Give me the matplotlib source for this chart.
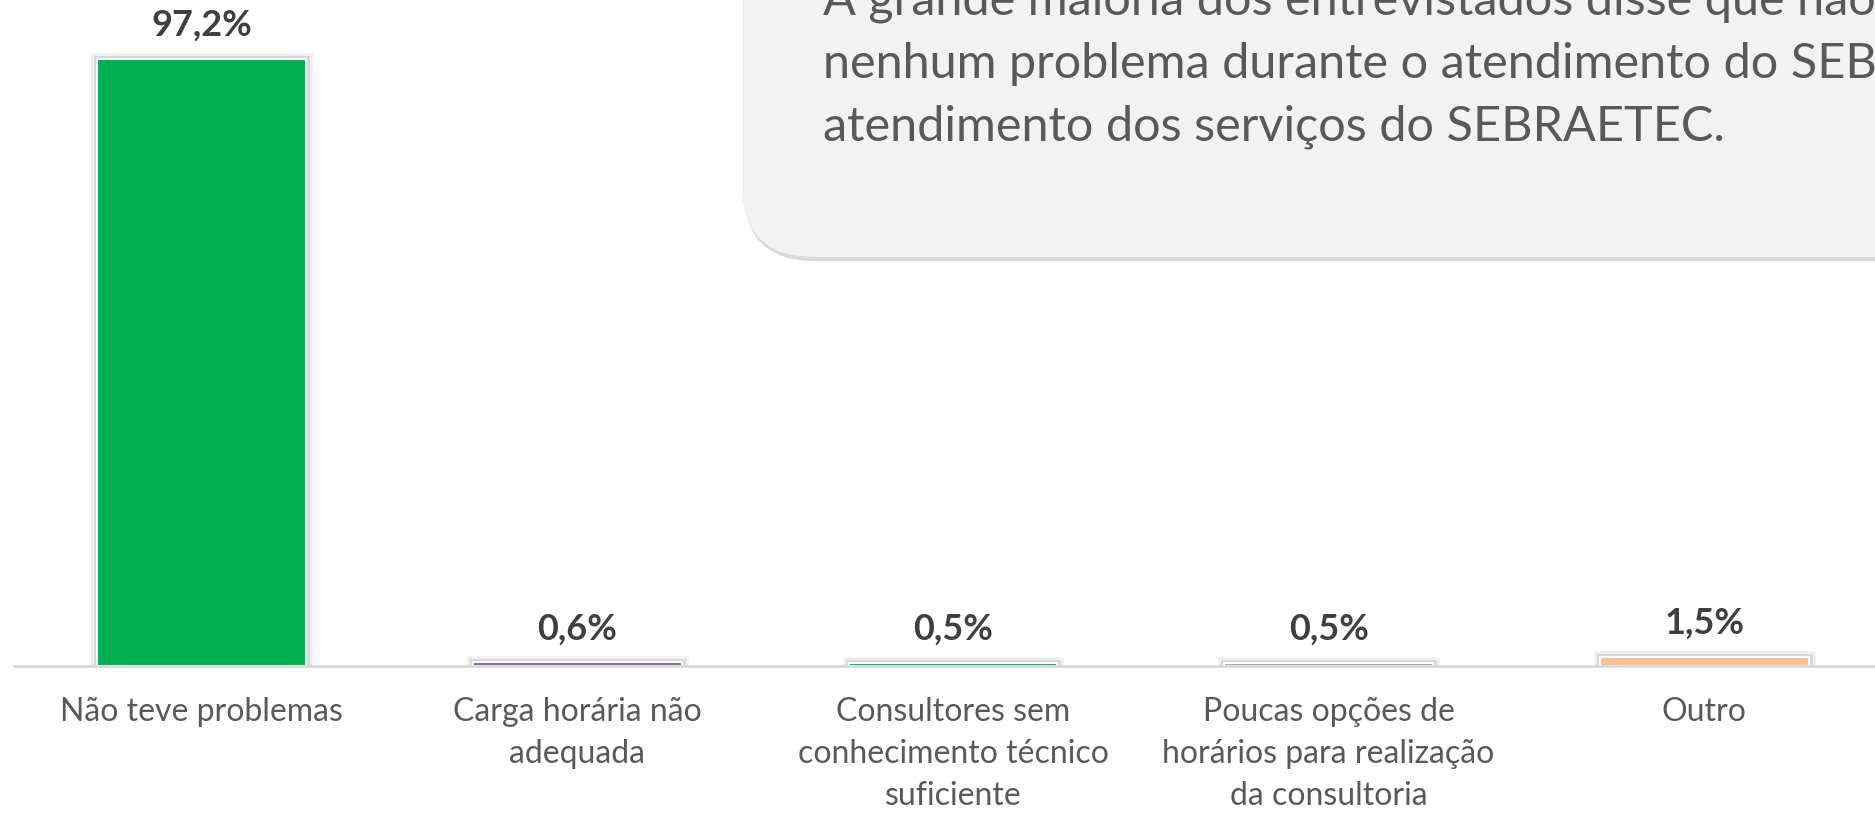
import numpy as np
import matplotlib.pyplot as plt
from matplotlib.patches import FancyBboxPatch
import matplotlib.patheffects as pe

# data
categories = ['Não teve problemas', 'Carga horária não\nadequada',
              'Consultores sem\nconhecimento técnico\nsuficiente',
              'Poucas opções de\nhorários para realização\nda consultoria', 'Outro']
values = [97.2, 0.6, 0.5, 0.5, 1.5]
labels = ['97,2%', '0,6%', '0,5%', '0,5%', '1,5%']
colors = ['#00B050', '#8064A2', '#00B050', '#A5A5A5', '#FAC090']
callout_lines = ['A grande maioria dos entrevistados disse que não teve',
                 'nenhum problema durante o atendimento do SEBRAE no',
                 'atendimento dos serviços do SEBRAETEC.']

plt.rcParams['font.family'] = ['Lato', 'DejaVu Sans']

W, H = 1875, 813
fig = plt.figure(figsize=(W / 100, H / 100), dpi=100)

# callout box (drawn behind the axes)
box = FancyBboxPatch((7.42, 5.56), 14, 4, boxstyle='round,pad=0,rounding_size=0.72',
                     transform=fig.dpi_scale_trans, facecolor='#F2F2F2', edgecolor='none',
                     zorder=0, path_effects=[pe.SimplePatchShadow(offset=(1, -3), shadow_rgbFace='#BFBFBF', alpha=0.6),
                                             pe.Normal()])
fig.patches.append(box)
for i, line in enumerate(callout_lines):
    fig.text(823 / W, 1 - (1 + 63 * i) / H, line, fontsize=35, color='#595959',
             ha='left', va='center')

ax = fig.add_axes([14 / W, (H - 666) / H, (1892 - 14) / W, 666 / H])
ax.patch.set_alpha(0)
x = np.arange(len(categories))
bars = ax.bar(x, values, width=0.556, color=colors, edgecolor='white', linewidth=1.5, zorder=2)
for b in bars:
    b.set_path_effects([pe.Stroke(linewidth=9, foreground='#808080', alpha=0.12),
                        pe.Stroke(linewidth=5, foreground='#808080', alpha=0.2),
                        pe.Normal()])
for xi, v, lab in zip(x, values, labels):
    ax.annotate(lab, (xi, v), xytext=(0, 12), textcoords='offset points', ha='center', va='bottom',
                fontsize=26, fontweight='bold', color='#404040')

ax.set_xlim(-0.5, len(categories) - 0.5)
ax.set_ylim(0, 106.6)
ax.set_xticks(x)
ax.set_xticklabels(categories, fontsize=23, color='#595959', linespacing=1.5, va='top')
ax.tick_params(axis='x', length=0, pad=22)
ax.set_yticks([])
for s in ['top', 'right', 'left']:
    ax.spines[s].set_visible(False)
ax.spines['bottom'].set_color('#D9D9D9')
ax.spines['bottom'].set_linewidth(2)
ax.spines['bottom'].set_zorder(3)

fig.savefig('out.png', dpi=100)
